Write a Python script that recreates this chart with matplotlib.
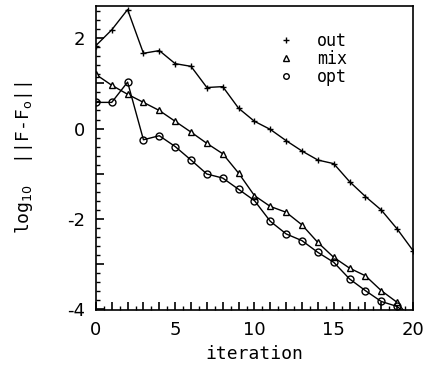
import matplotlib
matplotlib.use("Agg")
import matplotlib.pyplot as plt
from matplotlib.ticker import MultipleLocator, FuncFormatter
from matplotlib.lines import Line2D

iters = list(range(0, 21))
out_vals = [1.84, 2.19, 2.64, 1.67, 1.73, 1.44, 1.38, 0.91, 0.93, 0.45, 0.16,
            -0.02, -0.27, -0.50, -0.70, -0.78, -1.18, -1.51, -1.81, -2.23, -2.71]
mix_vals = [1.20, 0.96, 0.76, 0.58, 0.40, 0.16, -0.08, -0.33, -0.56, -0.99, -1.49,
            -1.73, -1.86, -2.14, -2.53, -2.86, -3.10, -3.27, -3.60, -3.86, -4.30]
opt_vals = [0.58, 0.58, 1.03, -0.25, -0.16, -0.40, -0.70, -1.01, -1.10, -1.35, -1.60,
            -2.06, -2.34, -2.49, -2.75, -2.97, -3.34, -3.60, -3.84, -3.95, -4.25]
labels = ["out", "mix", "opt"]
xticks_labeled = [0, 5, 10, 15, 20]
yticks_labeled = [-4, -2, 0, 2]

fig = plt.figure(figsize=(4.28, 3.74), dpi=100)
ax = fig.add_axes([0.224, 0.171, 0.741, 0.813])

lw = 1.0
ms = 5
ax.plot(iters, out_vals, color="black", lw=lw, marker="+", ms=ms, mew=1.0)
ax.plot(iters, mix_vals, color="black", lw=lw, marker="^", ms=ms, mfc="white", mew=1.0)
ax.plot(iters, opt_vals, color="black", lw=lw, marker="o", ms=ms, mfc="none", mew=1.0)

ax.set_xlim(0, 20)
ax.set_ylim(-4.03, 2.72)

ax.xaxis.set_major_locator(MultipleLocator(1))
ax.xaxis.set_minor_locator(MultipleLocator(0.5))
ax.yaxis.set_major_locator(MultipleLocator(1))
ax.yaxis.set_minor_locator(MultipleLocator(0.2))
ax.xaxis.set_major_formatter(FuncFormatter(lambda v, p: f"{int(round(v))}" if int(round(v)) in xticks_labeled else ""))
ax.yaxis.set_major_formatter(FuncFormatter(lambda v, p: f"{int(round(v))}" if int(round(v)) in yticks_labeled else ""))

ax.tick_params(which="major", direction="in", length=6, width=1.2, top=False, right=False,
               labelsize=13, pad=8)
ax.tick_params(which="minor", direction="in", length=3, width=1.0, top=False, right=False)
for lab in ax.get_xticklabels() + ax.get_yticklabels():
    lab.set_fontfamily("DejaVu Sans")

for s in ax.spines.values():
    s.set_linewidth(1.2)

ax.set_xlabel("iteration", fontsize=13, fontfamily="DejaVu Sans Mono", labelpad=4)
ax.set_ylabel(r"log$_{10}$  ||F-F$_{\rm o}$||", fontsize=13, fontfamily="DejaVu Sans Mono", labelpad=23)

handles = [
    Line2D([], [], ls="none", marker="+", color="black", ms=4, mew=1.0),
    Line2D([], [], ls="none", marker="^", color="black", mfc="white", ms=4, mew=1.0),
    Line2D([], [], ls="none", marker="o", color="black", mfc="none", ms=4, mew=1.0),
]
leg = ax.legend(handles, labels, loc="upper right", bbox_to_anchor=(0.84, 0.965),
                frameon=False, handlelength=1.0, handletextpad=1.4, labelspacing=0.02,
                prop={"family": "DejaVu Sans Mono", "size": 12})

fig.savefig("out.png", dpi=100)
